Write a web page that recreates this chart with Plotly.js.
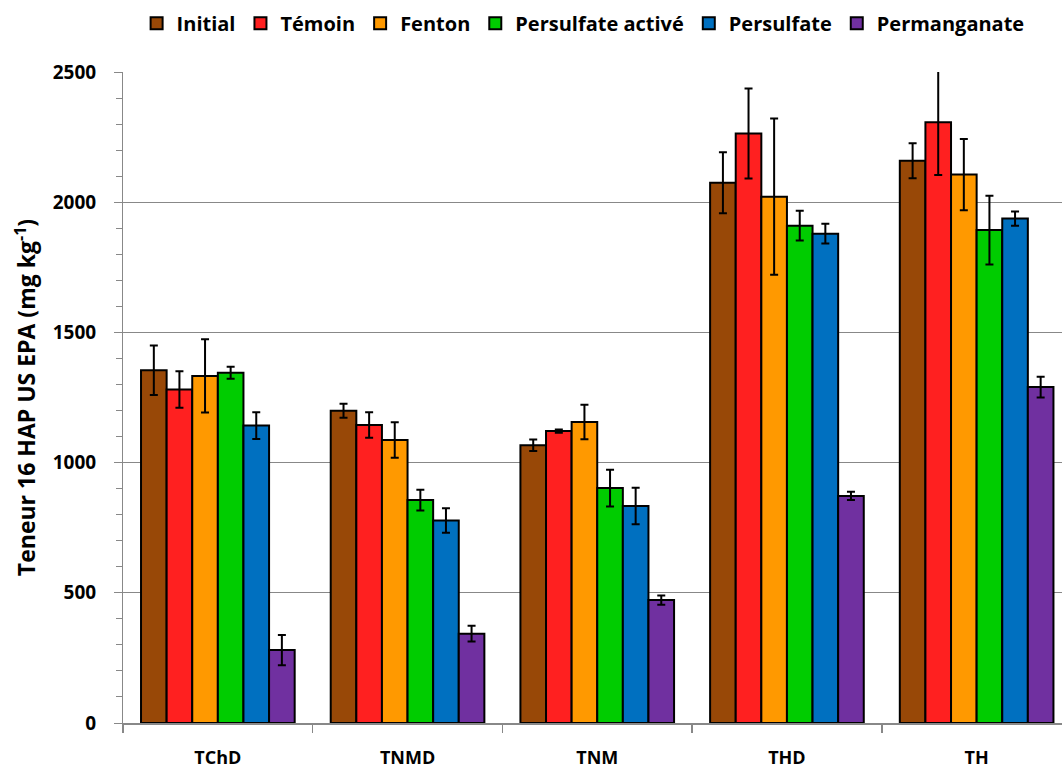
<!DOCTYPE html>
<html>
<head>
<meta charset="utf-8">
<script src="https://cdn.plot.ly/plotly-3.0.1.min.js"></script>
<style>html,body{margin:0;padding:0;background:#fff;overflow:hidden}</style>
</head>
<body>
<div id="chart" style="width:1062px;height:769px"></div>
<script>
const categories = ['TChD', 'TNMD', 'TNM', 'THD', 'TH'];
const seriesNames = ['Initial', 'Témoin', 'Fenton', 'Persulfate activé', 'Persulfate', 'Permanganate'];
const initialVals = [1355, 1199, 1067, 2075, 2159];
const initialErr  = [95, 27, 22, 117, 67];
const temoinVals  = [1281, 1144, 1121, 2264, 2307];
const temoinErr   = [70, 49, 6, 173, 203];
const fentonVals  = [1333, 1087, 1156, 2021, 2106];
const fentonErr   = [141, 68, 66, 300, 137];
const persActVals = [1345, 856, 902, 1910, 1893];
const persActErr  = [23, 40, 71, 57, 132];
const persVals    = [1142, 778, 833, 1879, 1937];
const persErr     = [51, 47, 70, 38, 27];
const permVals    = [280, 343, 472, 872, 1290];
const permErr     = [58, 30, 18, 16, 40];
const yTicks = [0, 500, 1000, 1500, 2000, 2500];

const colors = ['#984807', '#FF2020', '#FF9900', '#00CC00', '#0070C0', '#7030A0'];
const vals = [initialVals, temoinVals, fentonVals, persActVals, persVals, permVals];
const errs = [initialErr, temoinErr, fentonErr, persActErr, persErr, permErr];

const FONT = '"Open Sans", Lato, "DejaVu Sans", sans-serif';

const traces = seriesNames.map((name, i) => ({
  type: 'bar',
  name: name,
  x: categories,
  y: vals[i],
  marker: { color: colors[i], line: { color: '#000', width: 2 } },
  error_y: { type: 'data', array: errs[i], visible: true, color: '#000', thickness: 2, width: 4 }
}));

const layout = {
  width: 1062,
  height: 769,
  margin: { l: 123, r: 0, t: 72, b: 46, pad: 0 },
  paper_bgcolor: '#fff',
  plot_bgcolor: '#fff',
  barmode: 'group',
  bargap: 0.19,
  bargroupgap: 0,
  showlegend: true,
  legend: {
    orientation: 'h',
    x: 0.49, xanchor: 'center',
    y: 1.075, yanchor: 'middle',
    font: { family: FONT, size: 20, color: '#000', weight: 'bold' },
    itemwidth: 30,
    tracegroupgap: 0
  },
  xaxis: {
    type: 'category',
    range: [-0.5, 4.45],
    tickson: 'boundaries',
    ticks: 'outside',
    ticklen: 8,
    tickcolor: '#888',
    tickwidth: 1.5,
    showline: true,
    linecolor: '#888',
    linewidth: 1.5,
    showgrid: false,
    zeroline: false,
    ticklabelstandoff: 18,
    tickfont: { family: FONT, size: 18, color: '#000', weight: 'bold' }
  },
  yaxis: {
    range: [0, 2500],
    tickvals: yTicks,
    ticktext: yTicks.map(String),
    ticks: 'outside',
    ticklen: 8,
    tickcolor: '#888',
    tickwidth: 1,
    showline: true,
    linecolor: '#888',
    linewidth: 1,
    showgrid: true,
    gridcolor: '#888',
    gridwidth: 1,
    zeroline: false,
    ticklabelstandoff: 14,
    tickfont: { family: FONT, size: 19, color: '#000', weight: 'bold' },
    minor: { dtick: 100, ticks: 'outside', ticklen: 6, tickcolor: '#888', tickwidth: 1, showgrid: false },
    title: {
      text: 'Teneur 16 HAP US EPA (mg kg<sup>-1</sup>)',
      font: { family: FONT, size: 23, color: '#000', weight: 'bold' },
      standoff: 10
    }
  }
};

Plotly.newPlot('chart', traces, layout, { displayModeBar: false, staticPlot: true });
</script>
</body>
</html>
